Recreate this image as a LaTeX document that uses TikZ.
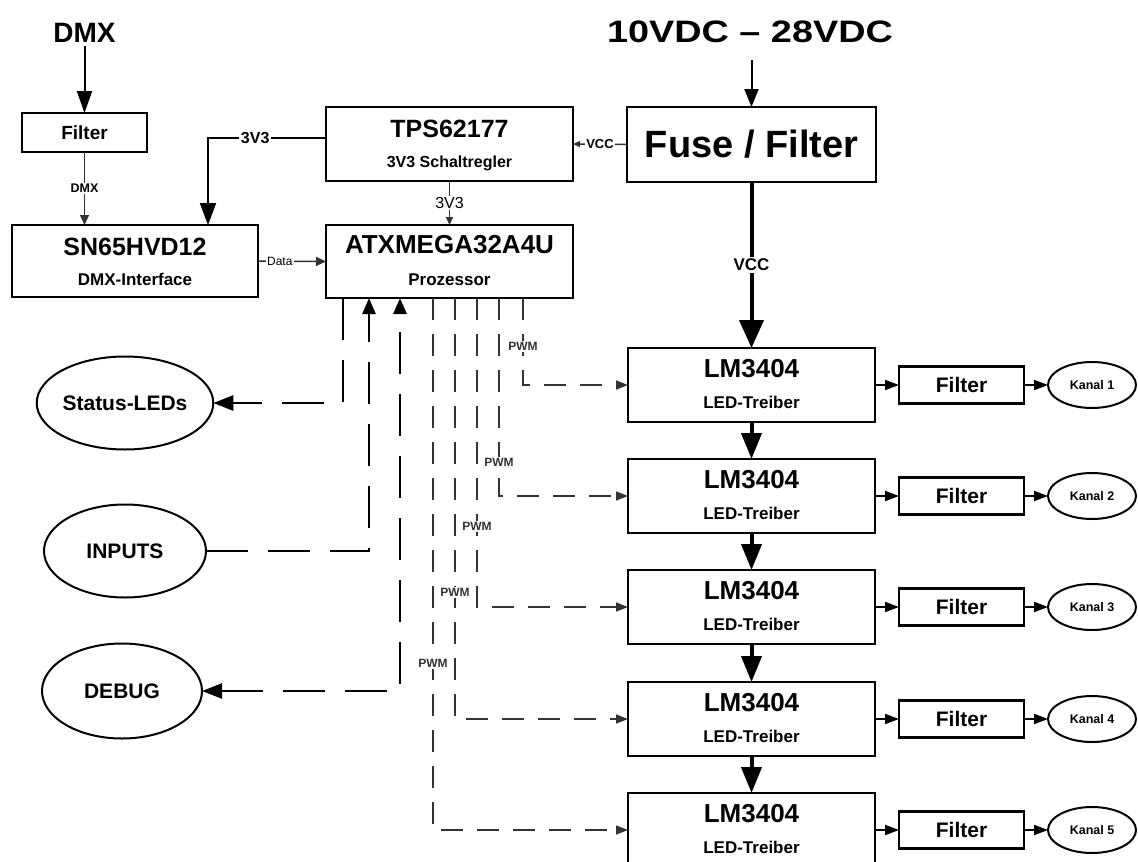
\documentclass[tikz,border=0pt]{standalone}
\usepackage{fontspec}
\setmainfont{Liberation Sans}
\usetikzlibrary{arrows.meta,shapes.geometric}
\newcommand\fsz[1]{\fontsize{#1}{#1}\selectfont}
\begin{document}
\begin{tikzpicture}[x=1pt,y=-1pt,
  box/.style={draw,line width=2.5pt,inner sep=0pt,outer sep=0pt},
  oval/.style={draw,ellipse,line width=2pt,inner sep=0pt,outer sep=0pt},
  ttl/.style={font={\bfseries\fsz{26}},anchor=base,inner sep=0pt},
  subt/.style={font={\bfseries\fsz{17}},anchor=base,inner sep=0pt},
  lab/.style={fill=white,inner sep=1.5pt},
  thinln/.style={line width=1.5pt,draw=black!80},
  pwm/.style={line width=1.6pt,draw=black!80,dash pattern=on 22pt off 14pt},
  dashthick/.style={line width=2.6pt,dash pattern=on 42pt off 20pt},
  smalltip/.style={-{Triangle[length=10pt,width=9pt]}},
  midtip/.style={-{Triangle[length=14pt,width=10pt]}},
  bigtip/.style={-{Triangle[length=22pt,width=16pt]}},
]
\path[use as bounding box] (0,0) rectangle (1138,862);

% ---------- top left ----------
\node[font={\bfseries\fsz{28}},anchor=base] (dmxt) at (84.5,42) {DMX};
\node[box,minimum width=125pt,minimum height=39pt,font={\bfseries\fsz{19}}] (filt0) at (84.5,132.5) {Filter};
\node[box,minimum width=246pt,minimum height=72pt] (sn) at (135,261) {};
\node[ttl,font={\bfseries\fsz{25}}] (snt) at (135,255) {SN65HVD12};
\node[subt] (sns) at (135,285) {DMX-Interface};

% ---------- middle ----------
\node[box,minimum width=247pt,minimum height=74pt] (tps) at (449.5,144) {};
\node[ttl,font={\bfseries\fsz{25}}] (tpst) at (449.5,137) {TPS62177};
\node[subt,font={\bfseries\fsz{16}}] (tpss) at (449.5,167) {3V3 Schaltregler};
\node[box,minimum width=247pt,minimum height=73pt] (atx) at (449.5,261.5) {};
\node[ttl] (atxt) at (449.5,253) {ATXMEGA32A4U};
\node[subt] (atxs) at (449.5,285) {Prozessor};

% ---------- right top ----------
\node[font={\bfseries\fsz{31}},anchor=base] (vin) at (750,42) {\scalebox{1.22}[1]{10VDC – 28VDC}};
\node[box,minimum width=249pt,minimum height=75pt,font={\bfseries\fsz{38}}] (fuse) at (751.5,144.5) {Fuse / Filter};
\coordinate (vinarrow) at (751.5,60);

% ---------- left ovals ----------
\node[oval,minimum width=162pt,minimum height=93pt,font={\bfseries\fsz{21}}] (status) at (125,403) {Status-LEDs};
\node[oval,minimum width=162pt,minimum height=93pt,font={\bfseries\fsz{21}}] (inputs) at (125,551) {INPUTS};
\node[oval,minimum width=160pt,minimum height=95pt,font={\bfseries\fsz{21}}] (debug) at (122,691) {DEBUG};

% ---------- LED driver chain ----------
\foreach \i/\y in {1/385,2/496,3/607,4/719,5/830}{
  \node[box,minimum width=247pt,minimum height=74pt] (lm\i) at (751.5,\y) {};
  \node[ttl] (lmt\i) at (751.5,\y-8) {LM3404};
  \node[subt] (lms\i) at (751.5,\y+23) {LED-Treiber};
  \node[box,minimum width=125pt,minimum height=37pt,font={\bfseries\fsz{21}}] (f\i) at (961.5,\y) {Filter};
  \node[oval,minimum width=88pt,minimum height=46pt,font={\bfseries\fsz{12.5}}] (k\i) at (1092,\y) {Kanal \i};
  \draw[line width=2pt,midtip] (lm\i.east) -- (f\i.west);
  \draw[line width=2pt,midtip] (f\i.east) -- (k\i.west);
}
\foreach \i/\j in {1/2,2/3,3/4,4/5}{
  \draw[line width=4pt,-{Triangle[length=26pt,width=20pt]}] (lm\i.south) -- (lm\j.north);
}

% ---------- connectors top ----------
\draw[line width=2pt,-{Triangle[length=22pt,width=15pt]}] (dmxt.south) -- (dmxt.south |- filt0.north);
\draw[thinln,smalltip] (filt0.south) -- node[lab,font={\bfseries\fsz{12.5}}] (dmxl) {DMX} (sn.north -| filt0.south);
\coordinate (c3) at (208,138);
\draw[line width=2pt,bigtip] ([yshift=6pt]tps.west) -- node[lab,pos=0.6,font={\bfseries\fsz{16}}] (l3v3a) {3V3} (c3) -- (c3 |- sn.north);
\draw[thinln,smalltip] (sn.east) -- node[lab,pos=0.32,font={\fsz{12}}] (ldata) {Data} (atx.west);
\draw[thinln,-{Triangle[length=8pt,width=7pt]}] (tps.south) -- node[lab,font={\fsz{16}}] (l3v3b) {3V3} (atx.north);
\draw[thinln,-{Triangle[length=7pt,width=6pt]}] (fuse.west) -- node[lab,font={\bfseries\fsz{13}}] (lvcca) {VCC} (tps.east);
\draw[line width=2pt,-{Triangle[length=18pt,width=14pt]}] (vinarrow) -- (fuse.north);
\draw[line width=4pt,-{Triangle[length=28pt,width=24pt]}] (fuse.south) -- node[lab,font={\bfseries\fsz{17}}] (lvccb) {VCC} (lm1.north);

% ---------- ATX bottom signals ----------
\coordinate (o1) at ([xshift=17pt]atx.south west);
\coordinate (o2) at ([xshift=43pt]atx.south west);
\coordinate (o3) at ([xshift=74pt]atx.south west);
\draw[dashthick,-{Triangle[length=20pt,width=15pt]}] (o1) -- (o1 |- status.east) -- (status.east);
\draw[dashthick,-{Triangle[length=16pt,width=13pt]}] (inputs.east) -- (o2 |- inputs.east) -- (o2);
\draw[dashthick,{Triangle[length=20pt,width=15pt]}-{Triangle[length=16pt,width=13pt]}] (debug.east) -- (o3 |- debug.east) -- (o3);

% ---------- PWM lines ----------
\coordinate (p1) at ([xshift=197pt]atx.south west);
\coordinate (p2) at ([xshift=173pt]atx.south west);
\coordinate (p3) at ([xshift=151pt]atx.south west);
\coordinate (p4) at ([xshift=129pt]atx.south west);
\coordinate (p5) at ([xshift=107pt]atx.south west);
\draw[pwm,-{Triangle[length=12pt,width=9pt]}] (p1) -- node[lab,pos=0.56,text=black!80,font={\bfseries\fsz{12}}] (pw1) {PWM} (p1 |- lm1.west) -- (lm1.west);
\draw[pwm,-{Triangle[length=12pt,width=9pt]}] (p2) -- node[lab,pos=0.83,text=black!80,font={\bfseries\fsz{12}}] (pw2) {PWM} (p2 |- lm2.west) -- (lm2.west);
\draw[pwm,-{Triangle[length=12pt,width=9pt]}] (p3) -- node[lab,pos=0.74,text=black!80,font={\bfseries\fsz{12}}] (pw3) {PWM} (p3 |- lm3.west) -- (lm3.west);
\draw[pwm,-{Triangle[length=12pt,width=9pt]}] (p4) -- node[lab,pos=0.70,text=black!80,font={\bfseries\fsz{12}}] (pw4) {PWM} (p4 |- lm4.west) -- (lm4.west);
\draw[pwm,-{Triangle[length=12pt,width=9pt]}] (p5) -- node[lab,pos=0.686,text=black!80,font={\bfseries\fsz{12}}] (pw5) {PWM} (p5 |- lm5.west) -- (lm5.west);
\end{tikzpicture}
\end{document}
